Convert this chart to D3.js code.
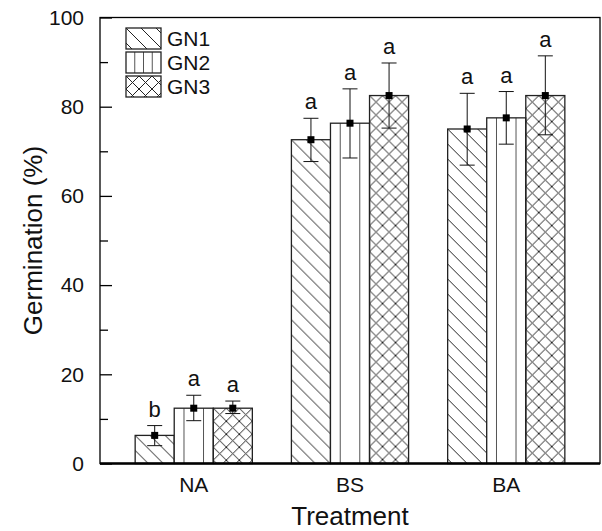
<!DOCTYPE html>
<html>
<head>
<meta charset="utf-8">
<script src="https://cdn.jsdelivr.net/npm/d3@7"></script>
<style>
  body { margin: 0; background: #fff; }
  text { font-family: "Liberation Sans", Arial, sans-serif; fill: #111; }
</style>
</head>
<body>
<svg id="chart" width="602" height="531"></svg>
<script>
// treatments on the x axis, three seed groups per treatment
const treatments = ["NA", "BS", "BA"];
const groups = ["GN1", "GN2", "GN3"];

// mean germination (%) per group, one array per treatment
const naMeans = [6.3, 12.4, 12.4];
const bsMeans = [72.6, 76.3, 82.5];
const baMeans = [75.0, 77.5, 82.5];

// error bar ends (upper / lower)
const naUpper = [8.5, 15.3, 14.0];
const naLower = [4.0, 9.6, 11.2];
const bsUpper = [77.4, 84.0, 89.8];
const bsLower = [67.7, 68.5, 75.2];
const baUpper = [83.0, 83.4, 91.4];
const baLower = [66.9, 71.6, 73.7];

// significance letters
const naLetters = ["b", "a", "a"];
const bsLetters = ["a", "a", "a"];
const baLetters = ["a", "a", "a"];

const yTicks = [0, 20, 40, 60, 80, 100];
const yMinor = [10, 30, 50, 70, 90];

const means = [naMeans, bsMeans, baMeans];
const uppers = [naUpper, bsUpper, baUpper];
const lowers = [naLower, bsLower, baLower];
const letters = [naLetters, bsLetters, baLetters];

const rows = [];
treatments.forEach((t, i) => {
  groups.forEach((g, j) => {
    rows.push({ t: t, ti: i, g: g, gi: j, v: means[i][j], hi: uppers[i][j], lo: lowers[i][j], lab: letters[i][j] });
  });
});

const svg = d3.select("#chart");
const pLeft = 100, pRight = 600, pTop = 17.5, pBottom = 463.5;

// group positions on a linear index scale, padded on both sides
const x = d3.scaleLinear().domain([-0.6, treatments.length - 0.4]).range([pLeft, pRight]);
const y = d3.scaleLinear().domain([0, 100]).range([pBottom, pTop]);
const bw = (x(1) - x(0)) * 0.25;

function barX(d) { return x(d.ti) + (d.gi - 1.5) * bw; }

const defs = svg.append("defs");

// hatch patterns, one per bar so the hatching starts at each bar's corner
function addPattern(id, kind, ox, oy) {
  if (kind === 0) {
    const p = defs.append("pattern").attr("id", id).attr("patternUnits", "userSpaceOnUse")
      .attr("x", ox).attr("y", oy).attr("width", 15).attr("height", 15);
    p.append("path").attr("d", "M0,0L15,15M-3,12L3,18M12,-3L18,3")
      .attr("stroke", "#222").attr("stroke-width", 1);
  } else if (kind === 2) {
    const p = defs.append("pattern").attr("id", id).attr("patternUnits", "userSpaceOnUse")
      .attr("x", ox).attr("y", oy).attr("width", 13).attr("height", 13);
    p.append("path").attr("d", "M0,0L13,13M13,0L0,13M-3,10L3,16M10,-3L16,3M-3,3L3,-3M10,16L16,10")
      .attr("stroke", "#222").attr("stroke-width", 1);
  }
}

rows.forEach((d, k) => {
  if (d.gi !== 1) addPattern("pat" + k, d.gi, barX(d), y(d.v));
});

const bars = svg.append("g").attr("class", "bars");

rows.forEach((d, k) => {
  const bx = barX(d), by = y(d.v), bh = y(0) - y(d.v);
  bars.append("rect")
    .attr("x", bx).attr("y", by).attr("width", bw).attr("height", bh)
    .attr("fill", d.gi === 1 ? "#fff" : "url(#pat" + k + ")");
  if (d.gi === 1) {
    [0.25, 0.75].forEach(f => {
      bars.append("line")
        .attr("x1", bx + bw * f).attr("x2", bx + bw * f)
        .attr("y1", by).attr("y2", y(0))
        .attr("stroke", "#555").attr("stroke-width", 1);
    });
  }
  bars.append("rect")
    .attr("x", bx).attr("y", by).attr("width", bw).attr("height", bh)
    .attr("fill", "none").attr("stroke", "#222").attr("stroke-width", 1.3);
});

// error bars, markers and letters
const err = svg.append("g").attr("class", "errors");
rows.forEach(d => {
  const cx = barX(d) + bw / 2;
  err.append("line").attr("x1", cx).attr("x2", cx).attr("y1", y(d.lo)).attr("y2", y(d.hi))
    .attr("stroke", "#111").attr("stroke-width", 1);
  [d.lo, d.hi].forEach(v => {
    err.append("line").attr("x1", cx - 7.5).attr("x2", cx + 7.5).attr("y1", y(v)).attr("y2", y(v))
      .attr("stroke", "#111").attr("stroke-width", 1);
  });
  err.append("rect").attr("x", cx - 3.5).attr("y", y(d.v) - 3.5).attr("width", 7).attr("height", 7)
    .attr("fill", "#000");
  err.append("text").attr("x", cx).attr("y", y(d.hi) - 9)
    .attr("text-anchor", "middle").attr("font-size", 22).text(d.lab);
});

// frame
svg.append("rect").attr("x", pLeft).attr("y", pTop).attr("width", pRight - pLeft).attr("height", pBottom - pTop)
  .attr("fill", "none").attr("stroke", "#000").attr("stroke-width", 1.3);
svg.append("line").attr("x1", pLeft).attr("x2", pRight).attr("y1", pBottom).attr("y2", pBottom)
  .attr("stroke", "#000").attr("stroke-width", 2.5);

// y axis with inward ticks
const yAxis = svg.append("g").attr("transform", `translate(${pLeft},0)`)
  .call(d3.axisLeft(y).tickValues(yTicks).tickSize(-12).tickPadding(16));
yAxis.select(".domain").remove();
yAxis.selectAll(".tick line").attr("stroke", "#000").attr("stroke-width", 1.3);
yAxis.selectAll(".tick text").attr("font-size", 21).attr("fill", "#111")
  .attr("font-family", "Liberation Sans, Arial, sans-serif");
svg.append("g").attr("transform", `translate(${pLeft},0)`)
  .call(d3.axisLeft(y).tickValues(yMinor).tickSize(-8).tickFormat(""))
  .call(g => g.select(".domain").remove())
  .selectAll(".tick line").attr("stroke", "#000").attr("stroke-width", 1.3);

// x category labels
svg.append("g").selectAll("text").data(treatments).join("text")
  .attr("x", (d, i) => x(i)).attr("y", 492)
  .attr("text-anchor", "middle").attr("font-size", 21).text(d => d);

// axis titles
svg.append("text").attr("x", (pLeft + pRight) / 2).attr("y", 525)
  .attr("text-anchor", "middle").attr("font-size", 26).text("Treatment");
svg.append("text").attr("transform", `translate(42,${(pTop + pBottom) / 2}) rotate(-90)`)
  .attr("text-anchor", "middle").attr("font-size", 26).text("Germination (%)");

// legend
const lg = svg.append("g").attr("class", "legend");
groups.forEach((g, j) => {
  const lx = 126, ly = 28 + j * 24, lw = 35, lh = 21;
  const pid = "leg" + j;
  if (j !== 1) addPattern(pid, j, lx, ly);
  lg.append("rect").attr("x", lx).attr("y", ly).attr("width", lw).attr("height", lh)
    .attr("fill", j === 1 ? "#fff" : `url(#${pid})`);
  if (j === 1) {
    [0.25, 0.5, 0.75].forEach(f => {
      lg.append("line").attr("x1", lx + lw * f).attr("x2", lx + lw * f)
        .attr("y1", ly).attr("y2", ly + lh).attr("stroke", "#555");
    });
  }
  lg.append("rect").attr("x", lx).attr("y", ly).attr("width", lw).attr("height", lh)
    .attr("fill", "none").attr("stroke", "#222").attr("stroke-width", 1.3);
  lg.append("text").attr("x", lx + lw + 6).attr("y", ly + lh / 2).attr("dy", "0.35em")
    .attr("font-size", 21).text(g);
});
</script>
</body>
</html>
